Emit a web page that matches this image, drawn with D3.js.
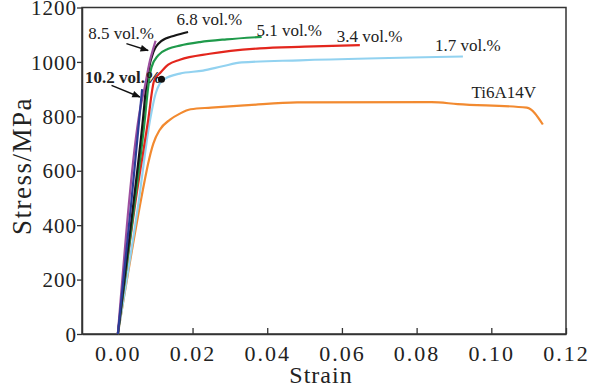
<!DOCTYPE html>
<html>
<head>
<meta charset="utf-8">
<script src="https://cdn.jsdelivr.net/npm/d3@7"></script>
<style>
  body { margin: 0; background: #fff; }
  text { font-family: "Liberation Serif", "Times New Roman", Times, serif; fill: #222; }
</style>
</head>
<body>
<div id="mainDiv"></div>
<script>
'use strict';

var myApp = {};

// strain / stress (MPa) pairs
var ti64 = [[0,0],[0.0072,565],[0.0081,626],[0.0095,700],[0.0112,750],[0.0139,787],[0.0166,810],
            [0.0195,826],[0.025,832],[0.035,841],[0.048,851],[0.084,852],[0.091,845],[0.1095,832],[0.1138,770]];
var vol17 = [[0,0],[0.0054,470],[0.0086,785],[0.0101,883],[0.0112,920],[0.0126,938],[0.0166,957],
             [0.0228,968],[0.028,984],[0.0332,998],[0.0487,1006],[0.0924,1020]];
var vol34 = [[0,0],[0.0045,465],[0.0081,785],[0.0097,930],[0.0115,962],[0.0135,990],[0.0166,1008],
             [0.0246,1030],[0.038,1050],[0.05,1056],[0.0648,1062]];
var vol51 = [[0,0],[0.0043,460],[0.0072,785],[0.0081,905],[0.009,980],[0.0108,1024],[0.0135,1048],
             [0.0166,1060],[0.022,1073],[0.0291,1083],[0.0385,1092]];
var vol68 = [[0,0],[0.004,460],[0.0068,800],[0.0075,900],[0.0083,975],[0.0095,1036],[0.0117,1077],
             [0.0153,1097],[0.0188,1110]];
var vol85 = [[0,0],[0.0059,822],[0.0072,907],[0.0086,1005],[0.0095,1050],[0.0101,1078]];
var vol102 = [[0,0],[0.0035,470],[0.0065,900]];

var seriesNames = ["Ti6A14V", "1.7 vol.%", "3.4 vol.%", "5.1 vol.%", "6.8 vol.%", "8.5 vol.%", "10.2 vol.%"];
var seriesData = [ti64, vol17, vol34, vol51, vol68, vol85, vol102];
var seriesColors = ["#f28a30", "#92d2f0", "#e3261d", "#1f9a4b", "#161616", "#9c4f9f", "#2a3c98"];

var xTicks = [0, 0.02, 0.04, 0.06, 0.08, 0.10, 0.12];
var yTicks = [0, 200, 400, 600, 800, 1000, 1200];

// label anchors in data units (strain, stress)
var labelPos = [[0.0947,866],[0.0849,1039],[0.0586,1072],[0.0371,1097],[0.0157,1134],[-0.00795,1083],[-0.0088,921]];
var arrows = [[[0.0023,1067],[0.0081,1042]], [[-0.0017,914],[0.0059,871]]];
var dotPoint = [0.0117, 936];

myApp.appendSvg = function(element, w, h)
{
    var node = d3.select(element).append("svg")
        .attr("width", w)
        .attr("height", h);
    return node;
}

myApp.run = function ()
{
    var svg = myApp.appendSvg("#mainDiv", 589, 386);
    var left = 82, right = 566, top = 7.5, bottom = 334;

    var x = d3.scaleLinear().domain([-0.0096, 0.12]).range([left, right]);
    var y = d3.scaleLinear().domain([0, 1200]).range([bottom, top]);

    svg.append("defs").append("marker")
        .attr("id", "arr")
        .attr("viewBox", "0 0 10 10")
        .attr("refX", 9).attr("refY", 5)
        .attr("markerWidth", 7).attr("markerHeight", 6)
        .attr("orient", "auto")
        .append("path")
            .attr("d", "M0,1 L10,5 L0,9 Z")
            .attr("fill", "#111");

    // frame
    svg.append("rect")
        .attr("x", left).attr("y", top)
        .attr("width", right - left).attr("height", bottom - top)
        .attr("fill", "none").attr("stroke", "#333").attr("stroke-width", 1.5);

    var xAxis = svg.append("g")
        .attr("transform", "translate(0," + bottom + ")")
        .call(d3.axisBottom(x).tickValues(xTicks).tickSizeInner(-6).tickSizeOuter(0).tickFormat(d3.format(".2f")));
    xAxis.attr("font-family", null);
    xAxis.select(".domain").attr("stroke", "#333").attr("stroke-width", 1.5);
    xAxis.selectAll(".tick line").attr("stroke", "#333").attr("stroke-width", 1.3);
    xAxis.selectAll(".tick text")
        .attr("y", 27).attr("dy", 0)
        .attr("font-size", "22px").attr("letter-spacing", "2px")
        .attr("fill", "#222");

    var yAxis = svg.append("g")
        .attr("transform", "translate(" + left + ",0)")
        .call(d3.axisLeft(y).tickValues(yTicks).tickSizeInner(5).tickSizeOuter(0).tickFormat(d3.format("d")));
    yAxis.attr("font-family", null);
    yAxis.select(".domain").attr("stroke", "#333").attr("stroke-width", 1.5);
    yAxis.selectAll(".tick line").attr("stroke", "#333").attr("stroke-width", 1.3);
    yAxis.selectAll(".tick text")
        .attr("x", -5).attr("dy", "0.34em")
        .attr("font-size", "21px").attr("letter-spacing", "1px")
        .attr("fill", "#222");

    svg.append("text")
        .text("Strain")
        .attr("x", 321).attr("y", 383)
        .attr("text-anchor", "middle")
        .attr("font-size", "24px").attr("letter-spacing", "1px");

    svg.append("text")
        .text("Stress/MPa")
        .attr("transform", "translate(31,166) rotate(-90)")
        .attr("text-anchor", "middle")
        .attr("font-size", "27px").attr("letter-spacing", "1.5px");

    var line = d3.line()
        .x(function(d) { return x(d[0]); })
        .y(function(d) { return y(d[1]); })
        .curve(d3.curveMonotoneX);

    svg.selectAll("path.curve")
        .data(seriesData)
        .enter()
        .append("path")
            .attr("class", "curve")
            .attr("d", function(d) { return line(d); })
            .attr("fill", "none")
            .attr("stroke", function(d, i) { return seriesColors[i]; })
            .attr("stroke-width", 2.2)
            .attr("stroke-linejoin", "round");

    svg.selectAll("text.lbl")
        .data(seriesNames)
        .enter()
        .append("text")
            .attr("class", "lbl")
            .text(function(d) { return d; })
            .attr("x", function(d, i) { return x(labelPos[i][0]); })
            .attr("y", function(d, i) { return y(labelPos[i][1]); })
            .attr("font-size", "17px")
            .attr("font-weight", function(d) { return d === "10.2 vol.%" ? "bold" : "normal"; })
            .attr("fill", "#222");

    svg.selectAll("line.arrow")
        .data(arrows)
        .enter()
        .append("line")
            .attr("class", "arrow")
            .attr("x1", function(d) { return x(d[0][0]); })
            .attr("y1", function(d) { return y(d[0][1]); })
            .attr("x2", function(d) { return x(d[1][0]); })
            .attr("y2", function(d) { return y(d[1][1]); })
            .attr("stroke", "#111").attr("stroke-width", 1.4)
            .attr("marker-end", "url(#arr)");

    svg.append("circle")
        .attr("cx", x(dotPoint[0])).attr("cy", y(dotPoint[1]))
        .attr("r", 3.5).attr("fill", "#111");
}

window.onload = myApp.run;
</script>
</body>
</html>
